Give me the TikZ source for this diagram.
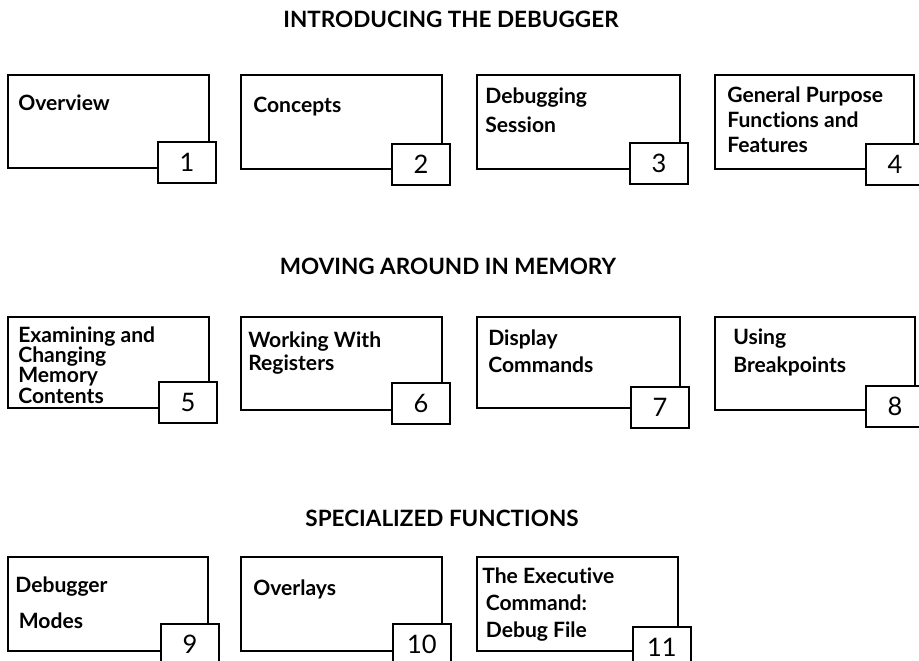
\documentclass[tikz,border=0pt]{standalone}
\usepackage{fontspec}
\setmainfont{Lato}[Ligatures=NoCommon]
\begin{document}
\begin{tikzpicture}[x=0.02cm,y=-0.02cm]
\tikzset{panel/.style={draw,line width=1.1pt},
         caption/.style={anchor=north west,align=left,inner sep=0pt},
         numbox/.style={draw,fill=white,line width=1.1pt,anchor=north west,minimum width=1.16cm,minimum height=0.82cm,inner sep=0pt,font=\fontsize{14.5}{15}\selectfont},
         heading/.style={font=\bfseries\fontsize{12.8}{15}\selectfont}}
\useasboundingbox (0,0) rectangle (919,661);

% section headings
\node[heading] (h1) at (451,19) {INTRODUCING THE DEBUGGER};
\node[heading] (h2) at (448,266) {MOVING AROUND IN MEMORY};
\node[heading] (h3) at (442,518) {SPECIALIZED FUNCTIONS};

% the chapters: number / panel corners / number box corner / text corner / line skip / text
\foreach \n/\xl/\yt/\xr/\yb/\nx/\ny/\tx/\ty/\ls/\txt in
  {1/8/75/209/168/157/141/18/95/15/{Overview},
   2/241/75/442/169/391/143/253/97/15/{Concepts},
   3/477/75/680/169/629/142/485/87/17/{Debugging\\Session},
   4/715/75/914/169/865/143/727/86/14.5/{General Purpose\\Functions and\\Features},
   5/8/317/209/408/158/381/18/326/11.6/{Examining and\\Changing\\Memory\\Contents},
   6/241/317/442/410/391/382/248/331/13.1/{Working With\\Registers},
   7/477/317/680/408/630/386/488/329/15.9/{Display\\Commands},
   8/715/317/915/410/865/385/733/329/15.9/{Using\\Breakpoints},
   9/8/557/208/651/160/623/15/576/20.5/{Debugger\\\,Modes},
   10/241/557/442/651/392/623/253/579/15/{Overlays},
   11/477/557/678/651/632/626/482/567/15.4/{The Executive\\\,Command:\\\,Debug File}}
{
    \draw[panel] (\xl,\yt) rectangle (\xr,\yb);
    \node[caption,font=\bfseries\fontsize{12}{\ls}\selectfont] (t\n) at (\tx,\ty) {\txt};
    \node[numbox] (n\n) at (\nx,\ny) {\n};
}
\end{tikzpicture}
\end{document}
